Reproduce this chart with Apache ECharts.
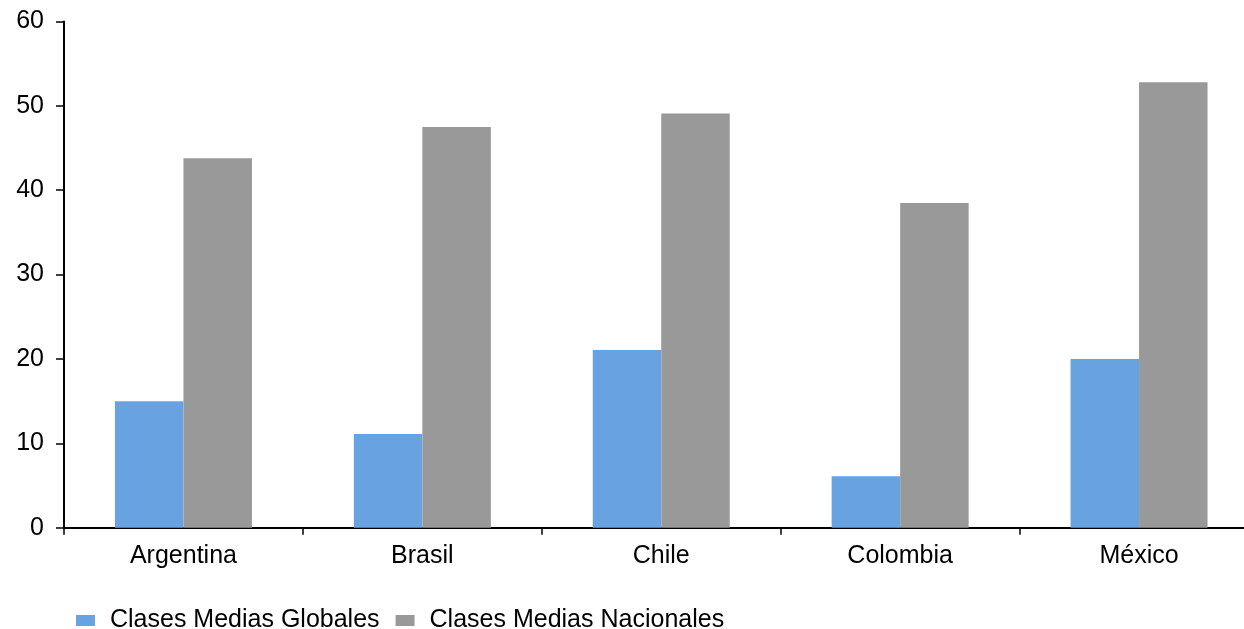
<!DOCTYPE html>
<html>
<head>
<meta charset="utf-8">
<script src="https://cdn.jsdelivr.net/npm/echarts@6/dist/echarts.min.js"></script>
<style>
html,body{margin:0;padding:0;background:#fff;}
#chart{width:1244px;height:629px;}
</style>
</head>
<body>
<div id="chart"></div>
<script>
const categories = ['Argentina', 'Brasil', 'Chile', 'Colombia', 'México'];
const seriesNames = ['Clases Medias Globales', 'Clases Medias Nacionales'];
const globales = [15.0, 11.1, 21.05, 6.1, 20.0];
const nacionales = [43.8, 47.5, 49.1, 38.5, 52.8];
const yTicks = [0, 10, 20, 30, 40, 50, 60];

const chart = echarts.init(document.getElementById('chart'), null, {renderer: 'canvas'});
const font = '"Liberation Sans", Arial, sans-serif';
chart.setOption({
  animation: false,
  backgroundColor: '#ffffff',
  textStyle: {fontFamily: font},
  grid: {left: 64, top: 21.5, width: 1194.5, bottom: 101.3, containLabel: false, outerBoundsMode: 'none'},
  legend: {
    data: seriesNames,
    left: 76,
    top: 608,
    padding: 0,
    itemWidth: 19,
    itemHeight: 11,
    itemGap: 16,
    icon: 'rect',
    textStyle: {fontFamily: font, fontSize: 25, color: '#000', padding: [0, 0, 0, 10]}
  },
  xAxis: {
    type: 'category',
    data: categories,
    axisLine: {lineStyle: {color: '#000', width: 2}},
    axisTick: {show: true, length: 7, lineStyle: {color: '#000', width: 1.5}},
    axisLabel: {color: '#000', fontSize: 25, fontFamily: font, margin: 16}
  },
  yAxis: {
    type: 'value',
    min: yTicks[0],
    max: yTicks[yTicks.length - 1],
    interval: 10,
    splitLine: {show: false},
    axisLine: {show: true, lineStyle: {color: '#000', width: 2}},
    axisTick: {show: true, length: 8, lineStyle: {color: '#000', width: 1.5}},
    axisLabel: {color: '#000', fontSize: 25, fontFamily: font, margin: 20, padding: [4, 0, 0, 0]}
  },
  series: [
    {name: seriesNames[0], type: 'bar', data: globales, barWidth: 68.5, barGap: '0%',
     itemStyle: {color: '#68A2E0'}},
    {name: seriesNames[1], type: 'bar', data: nacionales, barWidth: 68.5, barGap: '0%',
     itemStyle: {color: '#999999'}}
  ]
});
</script>
</body>
</html>
